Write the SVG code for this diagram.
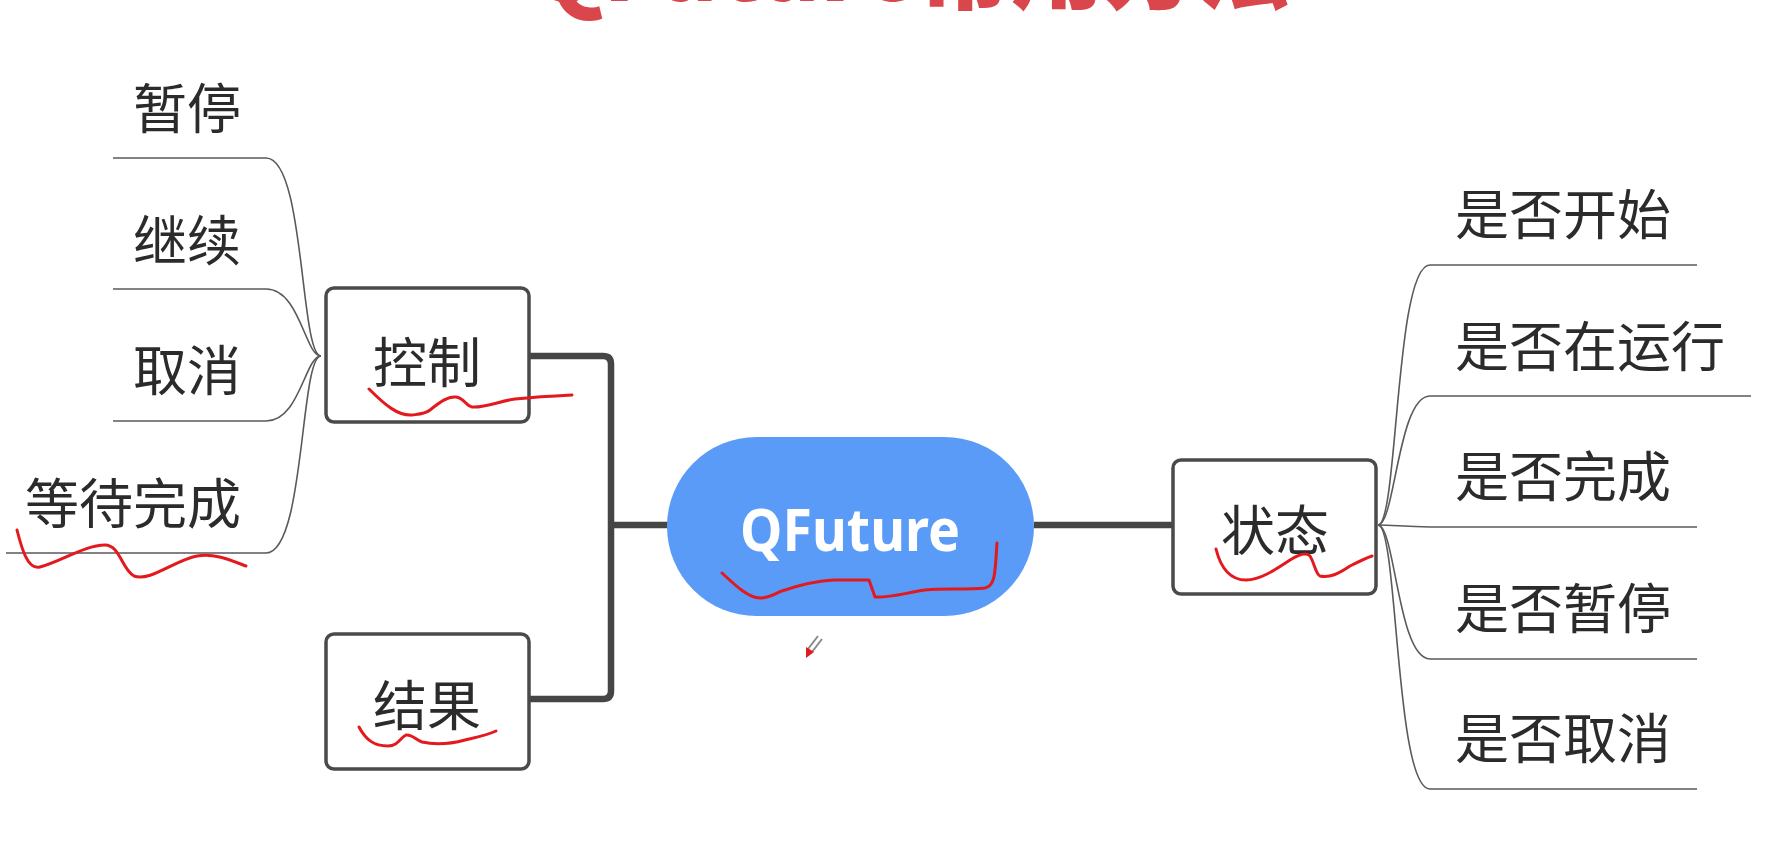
<svg xmlns="http://www.w3.org/2000/svg" width="1768" height="859" viewBox="0 0 1768 859">
<style>
.bg{fill:#ffffff}
.title{font-family:"Noto Sans CJK SC","Liberation Sans",sans-serif;font-weight:900;font-size:96px;fill:#d9464c}
.box{fill:#ffffff;stroke:#4a4a4a;stroke-width:3.5}
.lbl{font-family:"Noto Sans CJK SC","Noto Sans",sans-serif;font-size:54px;fill:#2b2b2b}
.root{fill:#5a9bf8}
.rootlbl{font-family:"Noto Sans","Liberation Sans",sans-serif;font-weight:700;font-size:60px;fill:#ffffff}
.thick{fill:none;stroke:#454545;stroke-width:6.5;stroke-linejoin:round}
.thin{fill:none;stroke:#5a5a5a;stroke-width:1.6}
.ink{fill:none;stroke:#e3191e;stroke-width:3;stroke-linecap:round;stroke-linejoin:round}
</style>
<rect class="bg" x="0" y="0" width="1768" height="859"/>
<text class="title" x="910" y="1" text-anchor="middle" textLength="760" lengthAdjust="spacingAndGlyphs">QFuture常用方法</text>

<g id="connectors">
  <path class="thick" d="M529,356 H603 Q611,356 611,364 V691 Q611,699 603,699 H529"/>
  <path class="thick" d="M611,525 H668"/>
  <path class="thick" d="M1034,525 H1173"/>
  <path class="thin" d="M113,158 H266 C305,158 300,356 321,356"/>
  <path class="thin" d="M113,289 H266 C300,289 305,356 321,356"/>
  <path class="thin" d="M113,421 H266 C300,421 305,356 321,356"/>
  <path class="thin" d="M6,553 H266 C305,553 300,356 321,356"/>
  <path class="thin" d="M1697,265 H1430 C1395,265 1398,525 1378,525"/>
  <path class="thin" d="M1751,396 H1430 C1398,396 1395,525 1378,525"/>
  <path class="thin" d="M1697,527 H1430 C1400,526 1390,525 1378,525"/>
  <path class="thin" d="M1697,659 H1430 C1398,659 1395,525 1378,525"/>
  <path class="thin" d="M1697,789 H1430 C1395,789 1398,525 1378,525"/>
</g>

<g id="root">
  <rect class="root" x="667" y="437" width="367" height="179" rx="89.5"/>
  <text class="rootlbl" x="850" y="551" text-anchor="middle" textLength="220" lengthAdjust="spacingAndGlyphs">QFuture</text>
</g>
<g id="control">
  <rect class="box" x="326" y="288" width="203" height="134" rx="8"/>
  <text class="lbl" x="427" y="383" text-anchor="middle">控制</text>
</g>
<g id="result">
  <rect class="box" x="326" y="634" width="203" height="135" rx="8"/>
  <text class="lbl" x="427" y="726" text-anchor="middle">结果</text>
</g>
<g id="state">
  <rect class="box" x="1173" y="460" width="203" height="134" rx="8"/>
  <text class="lbl" x="1275" y="551" text-anchor="middle">状态</text>
</g>
<g id="pause"><text class="lbl" x="241" y="129" text-anchor="end">暂停</text></g>
<g id="resume"><text class="lbl" x="241" y="261" text-anchor="end">继续</text></g>
<g id="cancel"><text class="lbl" x="241" y="391" text-anchor="end">取消</text></g>
<g id="waitfinish"><text class="lbl" x="241" y="524" text-anchor="end">等待完成</text></g>
<g id="isstarted"><text class="lbl" x="1455" y="235">是否开始</text></g>
<g id="isrunning"><text class="lbl" x="1455" y="367">是否在运行</text></g>
<g id="isfinished"><text class="lbl" x="1455" y="497">是否完成</text></g>
<g id="ispaused"><text class="lbl" x="1455" y="629">是否暂停</text></g>
<g id="iscanceled"><text class="lbl" x="1455" y="759">是否取消</text></g>

<g id="annotations">
  <path class="ink" d="M369,389 C385,405 398,416 412,415 C420,414 425,414 430,410 C440,402 448,396 456,397 C464,398 466,406 472,407 C485,408 500,401 515,399 C535,397 552,396 572,395"/>
  <path class="ink" d="M17,530 C22,550 28,570 40,567 C60,562 85,545 105,545 C120,545 122,570 134,576 C150,582 175,560 197,556 C215,553 230,560 246,566"/>
  <path class="ink" d="M722,573 C735,585 748,598 760,598 C772,598 776,592 785,590 C800,585 815,581 834,580 L869,580 L875,597 C890,598 905,593 925,590 C945,588 965,590 985,588 C996,586 995,570 997,543"/>
  <path class="ink" d="M1216,549 C1220,565 1228,580 1246,580 C1260,580 1275,570 1290,560 C1298,555 1306,552 1310,556 C1314,562 1316,575 1320,576 C1330,578 1338,574 1350,566 C1358,562 1366,558 1372,556"/>
  <path class="ink" d="M359,727 C366,740 374,746 388,746 C398,746 400,738 406,735 C412,734 416,740 422,742 C435,745 450,744 465,740 C478,737 488,735 496,731"/>
  <path d="M818,636 L808,649 M822,639 L812,652" stroke="#8a8a8a" stroke-width="2" fill="none"/>
  <path d="M806,647 L814,652 L806,658 Z" fill="#e3191e"/>
</g>
</svg>
